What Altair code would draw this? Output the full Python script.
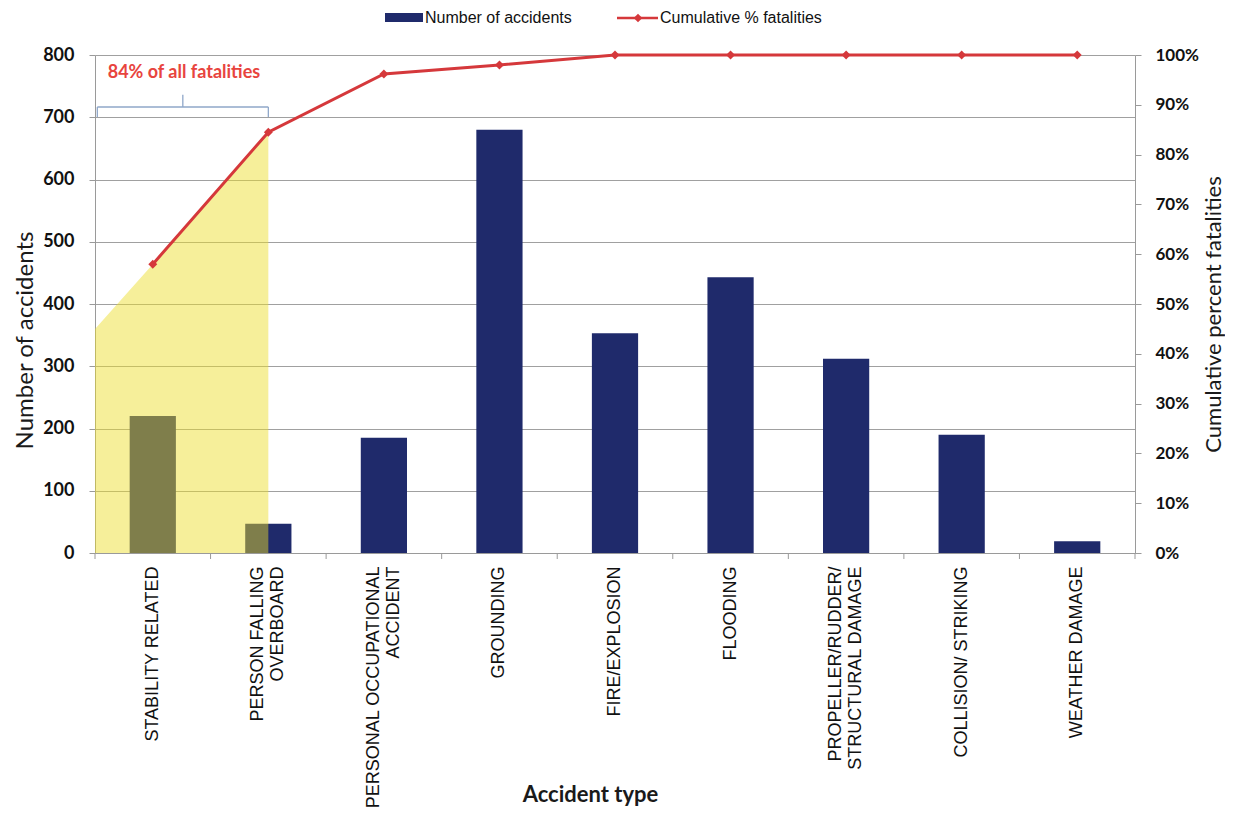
import altair as alt
import pandas as pd

# ---------------- data ----------------
categories = [
    "STABILITY RELATED",
    "PERSON FALLING\nOVERBOARD",
    "PERSONAL OCCUPATIONAL\nACCIDENT",
    "GROUNDING",
    "FIRE/EXPLOSION",
    "FLOODING",
    "PROPELLER/RUDDER/\nSTRUCTURAL DAMAGE",
    "COLLISION/ STRIKING",
    "WEATHER DAMAGE",
]
accidents = [220, 47, 185, 680, 353, 443, 312, 190, 19]
cum_pct = [0.58, 0.845, 0.962, 0.98, 1.0, 1.0, 1.0, 1.0, 1.0]

# highlighted (yellow) region, in category-slot units (0..9) and percent
shade_pos = [0.0, 0.5, 1.5]
shade_pct = [0.45, 0.58, 0.845]

# category boundary tick positions
boundary_pos = [0, 1, 2, 3, 4, 5, 6, 7, 8, 9]

# bracket annotation ("84% of all fatalities")
br_x = [0.02, 0.02, 1.5, 0.76]
br_x2 = [1.5, 0.02, 1.5, 0.76]
br_y = [0.8956, 0.8755, 0.8755, 0.8956]
br_y2 = [0.8956, 0.8956, 0.8956, 0.92]
note_text = ["84% of all fatalities"]
note_pos = [0.77]
note_pct = [0.963]

count_ticks = [0, 100, 200, 300, 400, 500, 600, 700, 800]
pct_ticks = [0, 0.1, 0.2, 0.3, 0.4, 0.5, 0.6, 0.7, 0.8, 0.9, 1.0]

# ---------------- styling ----------------
NAVY = "#1f2a6b"
RED = "#d5383b"
YELLOW = "#ebdc28"
GRID = "#a0a0a0"
AXISC = "#9a9a9a"
BRACKET = "#8fa7c9"

W, H = 1040, 498

df = pd.DataFrame({"type": categories, "accidents": accidents, "cum": cum_pct})
shade_df = pd.DataFrame({"pos": shade_pos, "pct": shade_pct})
ticks_df = pd.DataFrame({"pos": boundary_pos})
br_df = pd.DataFrame({"x": br_x, "x2": br_x2, "y": br_y, "y2": br_y2})
note_df = pd.DataFrame({"t": note_text, "pos": note_pos, "pct": note_pct})
one = pd.DataFrame({"k": [0]})

qx = alt.Scale(domain=[0, 9], nice=False, zero=False)
qy = alt.Scale(domain=[0, 1], nice=False)

bars = alt.Chart(df).mark_bar(color=NAVY).encode(
    x=alt.X(
        "type:N",
        sort=None,
        scale=alt.Scale(paddingInner=0.6, paddingOuter=0.3),
        axis=alt.Axis(
            title="Accident type",
            labelAngle=270,
            labelAlign="right",
            labelBaseline="middle",
            labelExpr="split(datum.label, '\\n')",
            labelOffset={"condition": {"test": "indexof(datum.value, '\\n') >= 0", "value": -10}, "value": 0},
            labelFont="Liberation Sans",
            labelFontSize=18,
            labelColor="#111111",
            labelPadding=13,
            labelLineHeight=20,
            labelLimit=400,
            labelOverlap=False,
            ticks=False,
            domainColor=AXISC,
            titleFont="Lato",
            titleFontSize=22,
            titleFontWeight="bold",
            titleColor="#1a1a1a",
            titleX=495,
            titleY=248,
            titleAlign="center",
            titleBaseline="alphabetic",
        ),
    ),
    y=alt.Y(
        "accidents:Q",
        scale=alt.Scale(domain=[0, 800], nice=False),
        axis=alt.Axis(
            orient="left",
            values=count_ticks,
            title="Number of accidents",
            grid=True,
            gridColor=GRID,
            domainColor=AXISC,
            tickColor=AXISC,
            tickSize=6,
            labelFont="Lato",
            labelFontSize=18,
            labelFontWeight="bold",
            labelColor="#111111",
            labelPadding=15,
            titleFont="Lato",
            titleFontSize=24,
            titleFontWeight="normal",
            titleColor="#1a1a1a",
            titleAngle=270,
            titleX=-70,
            titleY=285,
            titleAlign="center",
            titleBaseline="middle",
        ),
    ),
)

shade = alt.Chart(shade_df).mark_area(color=YELLOW, opacity=0.47).encode(
    x=alt.X("pos:Q", scale=qx, axis=None),
    y=alt.Y("pct:Q", scale=qy, axis=None),
)

line = alt.Chart(df).mark_line(color=RED, strokeWidth=3).encode(
    x=alt.X("type:N", sort=None, scale=alt.Scale(type="point", padding=0.5), axis=None),
    y=alt.Y(
        "cum:Q",
        scale=alt.Scale(domain=[0, 1], nice=False),
        axis=alt.Axis(
            orient="right",
            values=pct_ticks,
            format=".0%",
            title="Cumulative percent fatalities",
            grid=False,
            domainColor=AXISC,
            tickColor=AXISC,
            tickSize=6,
            labelFont="Lato",
            labelFontSize=17,
            labelFontWeight="bold",
            labelColor="#111111",
            labelPadding=14,
            titleFont="Lato",
            titleFontSize=22,
            titleFontWeight="normal",
            titleColor="#1a1a1a",
            titleAngle=270,
            titleX=78,
            titleY=259,
            titleAlign="center",
            titleBaseline="middle",
        ),
    ),
)

points = alt.Chart(df).mark_point(shape="diamond", filled=True, size=80, color=RED, opacity=1).encode(
    x=alt.X("type:N", sort=None, scale=alt.Scale(type="point", padding=0.5), axis=None),
    y=alt.Y("cum:Q", scale=alt.Scale(domain=[0, 1], nice=False), axis=None),
)

bticks = alt.Chart(ticks_df).mark_rule(color=AXISC, strokeWidth=1).encode(
    x=alt.X("pos:Q", scale=qx, axis=None),
    y=alt.value(H),
    y2=alt.value(H + 6),
)

bracket = alt.Chart(br_df).mark_rule(color=BRACKET, strokeWidth=1.3).encode(
    x=alt.X("x:Q", scale=qx, axis=None),
    x2="x2:Q",
    y=alt.Y("y:Q", scale=qy, axis=None),
    y2="y2:Q",
)

note = alt.Chart(note_df).mark_text(
    color="#e8443e", font="Lato", fontSize=18, fontWeight="bold", align="center", baseline="middle"
).encode(
    x=alt.X("pos:Q", scale=qx, axis=None),
    y=alt.Y("pct:Q", scale=qy, axis=None),
    text="t:N",
)

# ---------------- legend (top centre) ----------------
leg_y = -37
leg_rect = alt.Chart(one).mark_rect(color=NAVY).encode(
    x=alt.value(290), x2=alt.value(328), y=alt.value(leg_y - 5), y2=alt.value(leg_y + 4)
)
leg_t1 = alt.Chart(one).mark_text(
    text="Number of accidents", font="Liberation Sans", fontSize=16, align="left", baseline="middle", color="#111111"
).encode(x=alt.value(330), y=alt.value(leg_y))
leg_line = alt.Chart(one).mark_rule(color=RED, strokeWidth=2.5).encode(
    x=alt.value(522), x2=alt.value(563), y=alt.value(leg_y)
)
leg_pt = alt.Chart(one).mark_point(shape="diamond", filled=True, size=75, color=RED, opacity=1).encode(
    x=alt.value(543), y=alt.value(leg_y)
)
leg_t2 = alt.Chart(one).mark_text(
    text="Cumulative % fatalities", font="Liberation Sans", fontSize=16, align="left", baseline="middle", color="#111111"
).encode(x=alt.value(565), y=alt.value(leg_y))

chart = (
    alt.layer(bars, shade, line, points, bticks, bracket, note, leg_rect, leg_t1, leg_line, leg_pt, leg_t2)
    .resolve_scale(x="independent", y="independent")
    .properties(
        width=W,
        height=H,
        autosize=alt.AutoSizeParams(type="none"),
        padding={"left": 87, "top": 47, "right": 90, "bottom": 254},
        background="white",
    )
    .configure_view(stroke=None)
)

chart.save("out.html", embed_options={"renderer": "svg", "actions": False})
